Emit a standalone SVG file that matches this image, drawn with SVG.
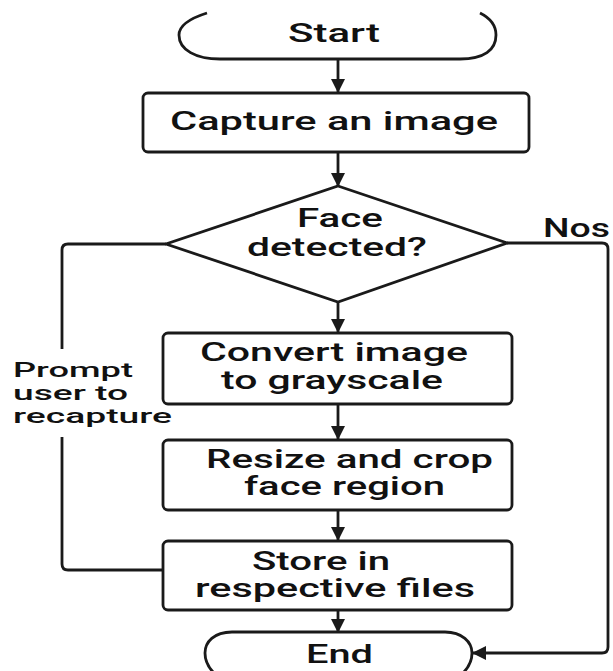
<svg xmlns="http://www.w3.org/2000/svg" width="613" height="671" viewBox="0 0 613 671">
  <defs>
    <marker id="arrow" viewBox="0 0 14 14" refX="13" refY="7" markerWidth="14" markerHeight="14" markerUnits="userSpaceOnUse" orient="auto">
      <path d="M0,0 L14,7 L0,14 Z" fill="#1a1a1a"/>
    </marker>
    <style>
      .shape { fill: #ffffff; stroke: #1a1a1a; stroke-width: 2.8; }
      .line { fill: none; stroke: #1a1a1a; stroke-width: 2.8; stroke-linejoin: round; }
      .lbl { font-family: Roboto, "Liberation Sans", Arial, sans-serif; font-weight: 500; font-size: 25px; fill: #111111; }
      .side { font-family: Roboto, "Liberation Sans", Arial, sans-serif; font-weight: 500; font-size: 21px; fill: #111111; }
    </style>
  </defs>
  <rect width="613" height="671" fill="#ffffff"/>

  <!-- connectors -->
  <g id="connectors">
    <path class="line" d="M338,59 L338,92" marker-end="url(#arrow)"/>
    <path class="line" d="M338,152 L338,186" marker-end="url(#arrow)"/>
    <path class="line" d="M338,302 L338,332" marker-end="url(#arrow)"/>
    <path class="line" d="M338,404 L338,439" marker-end="url(#arrow)"/>
    <path class="line" d="M338,510 L338,540" marker-end="url(#arrow)"/>
    <path class="line" d="M338,610 L338,632" marker-end="url(#arrow)"/>
    <!-- no face: jump to End -->
    <path class="line" d="M507,243 L602,243 Q608,243 608,249 L608,647 Q608,653 602,653 L473,653" marker-end="url(#arrow)"/>
    <!-- retry loop on the left, broken around its label -->
    <path class="line" d="M166,244 L68,244 Q62,244 62,250 L62,349"/>
    <path class="line" d="M62,437 L62,564 Q62,570 68,570 L163,570"/>
  </g>

  <g id="start">
    <path class="shape" d="M207,13 C188,19 179,26 179,35 C179,50 196,59 220,59 L460,59 C484,59 496,50 496,35 C496,26 492,19 480,13"/>
    <text class="lbl" x="288" y="42" textLength="92" lengthAdjust="spacingAndGlyphs">Start</text>
  </g>

  <g id="capture">
    <rect class="shape" x="143" y="93" width="386" height="59" rx="5"/>
    <text class="lbl" x="170" y="130" textLength="328" lengthAdjust="spacingAndGlyphs">Capture an image</text>
  </g>

  <g id="decision">
    <path class="shape" d="M338,186 L507,243 L338,302 L166,244 Z"/>
    <text class="lbl" x="297" y="227" textLength="86" lengthAdjust="spacingAndGlyphs">Face</text>
    <text class="lbl" x="247" y="256" textLength="180" lengthAdjust="spacingAndGlyphs">detected?</text>
  </g>

  <g id="label-no">
    <text class="lbl" x="543" y="237" textLength="67" lengthAdjust="spacingAndGlyphs">Nos</text>
  </g>

  <g id="label-retry">
    <text class="side" x="13" y="377" textLength="120" lengthAdjust="spacingAndGlyphs">Prompt</text>
    <text class="side" x="13" y="400" textLength="115" lengthAdjust="spacingAndGlyphs">user to</text>
    <text class="side" x="13" y="423" textLength="159" lengthAdjust="spacingAndGlyphs">recapture</text>
  </g>

  <g id="grayscale">
    <rect class="shape" x="163" y="333" width="349" height="71" rx="5"/>
    <text class="lbl" x="200" y="361" textLength="268" lengthAdjust="spacingAndGlyphs">Convert image</text>
    <text class="lbl" x="221" y="389" textLength="222" lengthAdjust="spacingAndGlyphs">to grayscale</text>
  </g>

  <g id="resize">
    <rect class="shape" x="163" y="440" width="349" height="70" rx="5"/>
    <text class="lbl" x="206" y="468" textLength="287" lengthAdjust="spacingAndGlyphs">Resize and crop</text>
    <text class="lbl" x="244" y="495" textLength="201" lengthAdjust="spacingAndGlyphs">face region</text>
  </g>

  <g id="store">
    <rect class="shape" x="163" y="541" width="349" height="69" rx="5"/>
    <text class="lbl" x="252" y="570" textLength="138" lengthAdjust="spacingAndGlyphs">Store in</text>
    <text class="lbl" x="195" y="597" textLength="280" lengthAdjust="spacingAndGlyphs">respective files</text>
  </g>

  <g id="end">
    <path class="shape" d="M214,673 C208,667 205,660 205,653 C205,642 214,632 232,632 L445,632 C462,632 472,642 472,653 C472,660 469,667 463,673"/>
    <text class="lbl" x="306" y="663" textLength="67" lengthAdjust="spacingAndGlyphs">End</text>
  </g>
</svg>
